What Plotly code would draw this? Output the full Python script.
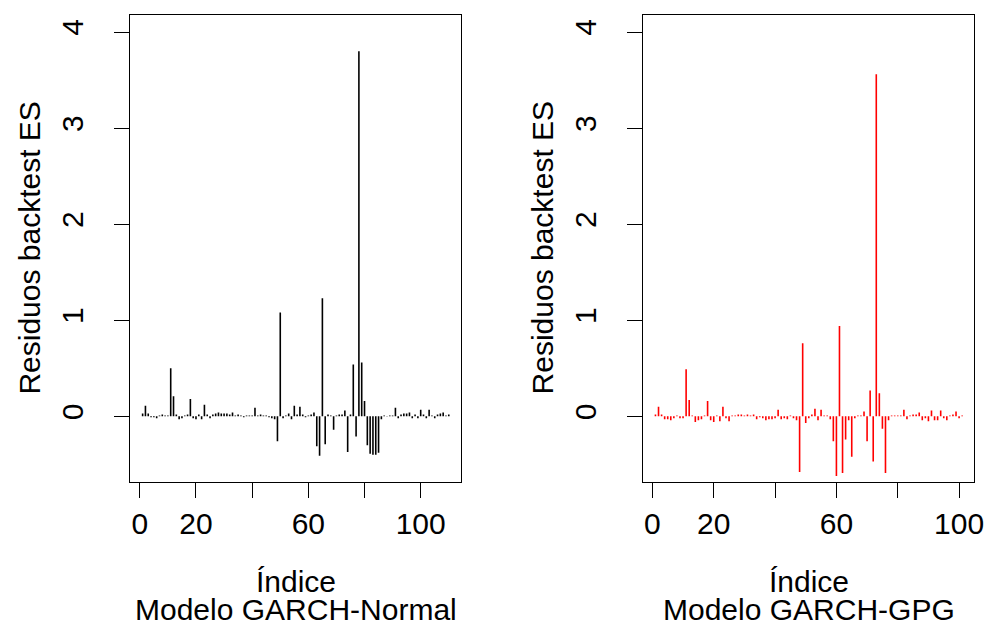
import plotly.graph_objects as go

# ---- data ----
res_normal = [0.03, 0.11, 0.03, -0.01, -0.01, -0.02, 0.01, 0.02, 0.01, 0.01,
              0.50, 0.21, 0.02, -0.03, -0.02, 0.01, 0.02, 0.18, -0.02, -0.03,
              0.02, -0.03, 0.12, 0.02, -0.02, 0.02, 0.03, 0.04, 0.03, 0.03,
              0.03, 0.02, 0.04, 0.01, 0.02, 0.01, -0.01, 0.01, 0.01, 0.01,
              0.09, 0.01, 0.02, 0.01, 0.01, -0.01, -0.02, -0.03, -0.26, 1.08,
              -0.02, 0.01, 0.03, -0.03, 0.11, 0.02, 0.10, 0.02, -0.01, 0.01,
              0.02, 0.04, -0.31, -0.41, 1.23, -0.29, 0.02, 0.01, -0.14, 0.01,
              0.02, 0.02, 0.06, -0.37, 0.02, 0.54, -0.21, 3.80, 0.56, 0.16,
              -0.30, -0.39, -0.40, -0.40, -0.38, -0.03, 0.01, 0.005, 0.01, 0.01,
              0.09, -0.02, 0.02, 0.03, 0.03, 0.04, -0.02, 0.02, -0.02, 0.07,
              0.02, -0.02, 0.07, 0.01, -0.02, 0.02, 0.03, 0.04, 0.01, 0.02]
res_gpg = [0.02, 0.10, 0.02, -0.03, -0.03, -0.04, -0.02, 0.01, -0.02, -0.02,
           0.49, 0.17, 0.01, -0.06, -0.04, -0.03, 0.01, 0.16, -0.04, -0.06,
           0.01, -0.05, 0.10, -0.02, -0.05, 0.01, 0.01, 0.02, 0.02, 0.01,
           0.02, 0.01, 0.02, -0.03, -0.01, -0.02, -0.04, -0.03, -0.03, -0.02,
           0.07, -0.03, -0.02, -0.03, 0.01, -0.02, -0.04, -0.58, 0.76, -0.07,
           -0.02, 0.02, 0.08, -0.04, 0.07, 0.01, 0.01, -0.03, -0.26, -0.62,
           0.94, -0.59, -0.24, -0.04, -0.42, -0.02, 0.01, 0.01, 0.05, -0.26,
           0.27, -0.47, 3.56, 0.24, -0.13, -0.59, -0.04, 0.01, 0.01, 0.01,
           0.01, 0.07, -0.03, 0.01, 0.02, 0.02, 0.04, -0.04, -0.02, -0.05,
           0.06, -0.04, -0.04, 0.06, -0.02, -0.04, 0.01, 0.02, 0.05, -0.02,
           0.01]
idx_normal = list(range(1, len(res_normal) + 1))
idx_gpg = list(range(1, len(res_gpg) + 1))

x_tickvals = [0, 20, 40, 60, 80, 100]
x_ticktext = ["0", "20", "", "60", "", "100"]
y_tickvals = [0, 1, 2, 3, 4]
y_ticktext = ["0", "1", "2", "3", "4"]
ylim = [-0.5, 4]

titles = ["Modelo GARCH-Normal", "Modelo GARCH-GPG"]
xlab = "Índice"
ylab = "Residuos backtest ES"

FONT = "Liberation Sans, Arial, Helvetica, sans-serif"
FS = 30
W, H = 997, 627


def h_segments(xs, ys):
    sx, sy = [], []
    for x, y in zip(xs, ys):
        sx += [x, x, None]
        sy += [0, y, None]
    return sx, sy


def r_range(lo, hi):
    d = (hi - lo) * 0.04
    return [lo - d, hi + d]


fig = go.Figure()
sx, sy = h_segments(idx_normal, res_normal)
fig.add_trace(go.Scatter(x=sx, y=sy, mode="lines", line=dict(color="black", width=1.6),
                         xaxis="x", yaxis="y", showlegend=False, hoverinfo="skip"))
sx, sy = h_segments(idx_gpg, res_gpg)
fig.add_trace(go.Scatter(x=sx, y=sy, mode="lines", line=dict(color="#FF0000", width=1.6),
                         xaxis="x2", yaxis="y2", showlegend=False, hoverinfo="skip"))

px_l = [131.7, 465.7]
px_r = [649.7, 984.3]
py = [14.7, 481.7]
dom_y = [(H - py[1]) / H, (H - py[0]) / H]

axis_common = dict(showline=True, mirror=True, linecolor="black", linewidth=1.3,
                   ticks="outside", ticklen=15, tickwidth=1.3, tickcolor="black",
                   showgrid=False, zeroline=False,
                   tickfont=dict(family=FONT, size=FS, color="black"))

fig.update_layout(
    width=W, height=H, margin=dict(l=0, r=0, t=0, b=0),
    plot_bgcolor="white", paper_bgcolor="white",
    xaxis=dict(domain=[px_l[0] / W, px_l[1] / W], anchor="y",
               range=r_range(1, len(res_normal)), tickvals=x_tickvals, ticktext=x_ticktext,
               ticklabelstandoff=0, **axis_common),
    yaxis=dict(domain=dom_y, anchor="x", range=r_range(*ylim),
               tickvals=y_tickvals, ticktext=y_ticktext, tickangle=-90,
               ticklabelstandoff=19, **axis_common),
    xaxis2=dict(domain=[px_r[0] / W, px_r[1] / W], anchor="y2",
                range=r_range(1, len(res_gpg)), tickvals=x_tickvals, ticktext=x_ticktext,
                ticklabelstandoff=0, **axis_common),
    yaxis2=dict(domain=dom_y, anchor="x2", range=r_range(*ylim),
                tickvals=y_tickvals, ticktext=y_ticktext, tickangle=-90,
                ticklabelstandoff=19, **axis_common),
)

anns = []
for (l, r), t in zip([px_l, px_r], titles):
    cx = (l + r) / 2 / W
    anns.append(dict(x=cx, y=(H - 581) / H, xref="paper", yref="paper", text=xlab,
                     showarrow=False, xanchor="center", yanchor="middle",
                     font=dict(family=FONT, size=FS, color="black")))
    anns.append(dict(x=cx, y=0, xref="paper", yref="paper", text=t,
                     showarrow=False, xanchor="center", yanchor="bottom", yshift=-1,
                     font=dict(family=FONT, size=FS, color="black")))
    anns.append(dict(x=(l - 102) / W, y=(H - (py[0] + py[1]) / 2) / H, xref="paper", yref="paper",
                     text=ylab, textangle=-90, showarrow=False, xanchor="center", yanchor="middle",
                     font=dict(family=FONT, size=FS, color="black")))
fig.update_layout(annotations=anns)

fig.write_html("out.html")
